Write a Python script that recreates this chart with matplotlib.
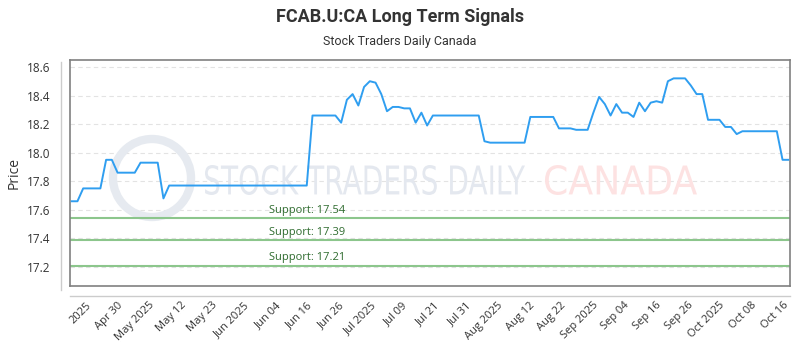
import matplotlib
matplotlib.use("Agg")
import matplotlib.pyplot as plt
from matplotlib.patches import Ellipse, PathPatch
from matplotlib.textpath import TextPath
from matplotlib.font_manager import FontProperties
from matplotlib.transforms import Affine2D
import numpy as np

title = "FCAB.U:CA Long Term Signals"
subtitle = "Stock Traders Daily Canada"

prices = [
    17.66, 17.66, 17.75, 17.75, 17.75, 17.75, 17.95, 17.95, 17.86, 17.86,
    17.86, 17.86, 17.93, 17.93, 17.93, 17.93, 17.68, 17.77, 17.77, 17.77,
    17.77, 17.77, 17.77, 17.77, 17.77, 17.77, 17.77, 17.77, 17.77, 17.77,
    17.77, 17.77, 17.77, 17.77, 17.77, 17.77, 17.77, 17.77, 17.77, 17.77,
    17.77, 17.77, 18.26, 18.26, 18.26, 18.26, 18.26, 18.21, 18.37, 18.41,
    18.33, 18.46, 18.50, 18.49, 18.41, 18.29, 18.32, 18.32, 18.31, 18.31,
    18.21, 18.28, 18.19, 18.26, 18.26, 18.26, 18.26, 18.26, 18.26, 18.26,
    18.26, 18.26, 18.08, 18.07, 18.07, 18.07, 18.07, 18.07, 18.07, 18.07,
    18.25, 18.25, 18.25, 18.25, 18.25, 18.17, 18.17, 18.17, 18.16, 18.16,
    18.16, 18.28, 18.39, 18.34, 18.26, 18.34, 18.28, 18.28, 18.25, 18.35,
    18.29, 18.35, 18.36, 18.35, 18.50, 18.52, 18.52, 18.52, 18.47, 18.41,
    18.41, 18.23, 18.23, 18.23, 18.18, 18.18, 18.13, 18.15, 18.15, 18.15,
    18.15, 18.15, 18.15, 18.15, 17.95, 17.95,
]

tick_labels = ["2025", "Apr 30", "May 2025", "May 12", "May 23", "Jun 2025",
               "Jun 04", "Jun 16", "Jun 26", "Jul 2025", "Jul 09", "Jul 21",
               "Jul 31", "Aug 2025", "Aug 12", "Aug 22", "Sep 2025", "Sep 04",
               "Sep 16", "Sep 26", "Oct 2025", "Oct 08", "Oct 16"]
first_tick, last_tick = 2.4, 124.0

support_levels = [17.54, 17.39, 17.21]
y_ticks = [17.2, 17.4, 17.6, 17.8, 18.0, 18.2, 18.4, 18.6]

W, H = 800, 350
fig = plt.figure(figsize=(8, 3.5), dpi=100)
ax = fig.add_axes([70/W, 1-286/H, 720/W, 226.5/H])

x = np.arange(len(prices))
ax.set_xlim(-0.3, len(prices) - 1 + 0.3)
ax.set_ylim(17.067, 18.652)

# gridlines
for v in y_ticks:
    ax.axhline(v, color="#e3e3e3", lw=0.8, ls=(0, (4, 3)), zorder=0)


def watermark(text, x0, x1, y0, y1, color):
    tp = TextPath((0, 0), text, size=1, prop=FontProperties(family="DejaVu Sans"))
    bb = tp.get_extents()
    sx = ((x1 - x0) / W) / bb.width
    sy = ((y1 - y0) / H) / bb.height
    tr = Affine2D().translate(-bb.x0, -bb.y0).scale(sx, sy).translate(x0 / W, 1 - y1 / H)
    patch = PathPatch(tp, transform=tr + fig.transFigure, fc=color, ec="none",
                      zorder=0.5)
    patch.set_clip_on(False)
    ax.add_patch(patch)


watermark("STOCK TRADERS DAILY", 205, 525, 165, 195, "#e4e8ef")
watermark("CANADA", 545, 697, 165, 195, "#fde2e2")
ell = Ellipse(((152-70)/720, (286-178)/226.5), 78/720, 78/226.5,
              transform=ax.transAxes, fill=False, lw=6, ec="#e6eaf0", zorder=0.5)
ax.add_patch(ell)

# support lines
for s in support_levels:
    ax.axhline(s, color="#8cc68c", lw=1.5, zorder=2)
    ax.text(41.0, s + 0.015, f"Support: {s:.2f}", color="#2e6b2e",
            fontsize=8, ha="center", va="bottom", family="Open Sans", zorder=3)

ax.plot(x, prices, color="#2f9ef0", lw=1.4, zorder=4)

ax.set_yticks(y_ticks)
ax.set_yticklabels([f"{v:.1f}" for v in y_ticks], fontsize=8.5,
                   family="Open Sans", color="#333333")
ax.tick_params(axis="y", length=0, pad=14)
ax.set_ylabel("Price", fontsize=10, family="Open Sans", color="#333333", labelpad=4)

tick_pos = np.linspace(first_tick, last_tick, len(tick_labels))
ax.set_xticks(tick_pos)
ax.set_xticklabels(tick_labels, rotation=45, ha="right", rotation_mode="anchor",
                   fontsize=8, family="Open Sans", color="#333333")
ax.tick_params(axis="x", length=0, pad=10)

for sp in ax.spines.values():
    sp.set_color("#808080")
    sp.set_linewidth(1.2)

# outer axis lines
fig.add_artist(plt.Line2D([61/W, 61/W], [1-290/H, 1-62/H], color="#cccccc", lw=1))
fig.add_artist(plt.Line2D([70/W, 790/W], [1-296/H, 1-296/H], color="#cccccc", lw=1))

fig.text(0.5, 1-17/H, title, ha="center", va="center", fontsize=13,
         fontweight="bold", color="#333333", family="Roboto", fontstretch="condensed")
fig.text(0.5, 1-41/H, subtitle, ha="center", va="center", fontsize=9,
         color="#333333", family="Roboto", fontstretch="condensed")

fig.savefig("out.png", dpi=100)
